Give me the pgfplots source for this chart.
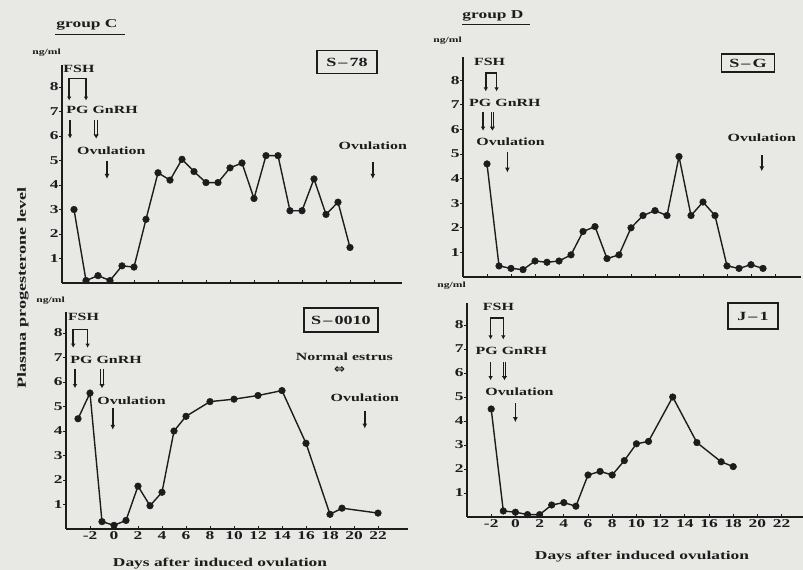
\documentclass[border=0pt]{standalone}
\usepackage{pgfplots}
\pgfplotsset{compat=1.18}
\usepackage{fontspec}
\setmainfont[FakeStretch=1.45]{Liberation Serif}
\newfontfamily\symfont{DejaVu Sans}
\usetikzlibrary{arrows.meta}

\definecolor{paper}{RGB}{232,232,229}
\definecolor{ink}{RGB}{28,28,28}

\newcommand{\fs}[1]{\fontsize{#1}{#1}\selectfont\bfseries}

% progesterone series (ng/ml) against days after induced ovulation
\pgfplotstableread{
day  p
-3  3.0
-2  0.1
-1  0.3
0   0.1
1   0.7
2   0.65
3   2.6
4   4.5
5   4.2
6   5.05
7   4.55
8   4.1
9   4.1
10  4.7
11  4.9
12  3.45
13  5.2
14  5.2
15  2.95
16  2.95
17  4.25
18  2.8
19  3.3
20  1.45
}\cowSseventyeight

\pgfplotstableread{
day  p
-2  4.6
-1  0.45
0   0.35
1   0.3
2   0.65
3   0.6
4   0.65
5   0.9
6   1.85
7   2.05
8   0.75
9   0.9
10  2.0
11  2.5
12  2.7
13  2.5
14  4.9
15  2.5
16  3.05
17  2.5
18  0.45
19  0.35
20  0.5
21  0.35
}\cowSG

\pgfplotstableread{
day  p
-3  4.5
-2  5.55
-1  0.3
0   0.15
1   0.35
2   1.75
3   0.95
4   1.5
5   4.0
6   4.6
8   5.2
10  5.3
12  5.45
14  5.65
16  3.5
18  0.6
19  0.85
22  0.65
}\cowSoolo

\pgfplotstableread{
day  p
-2  4.5
-1  0.25
0   0.2
1   0.1
2   0.1
3   0.5
4   0.6
5   0.45
6   1.75
7   1.9
8   1.75
9   2.35
10  3.05
11  3.15
13  5.0
15  3.1
17  2.3
18  2.1
}\cowJone

\pgfplotsset{
  panel/.style={
    scale only axis, clip=false,
    axis x line=bottom, axis y line=left,
    axis line style={ink, line width=1.4pt, -},
    xmin=-4, ymin=0,
    xtick={-2,0,...,22}, ytick={1,2,3,4,5,6,7,8},
    /pgf/number format/assume math mode=true,
    yticklabel={\fs{12}\pgfmathprintnumber{\tick}},
    tick align=inside,
    major tick length=3pt,
    tick style={ink, line width=0.9pt},
    ytick style={xshift=-3pt},
    tick label style={text=ink},
  },
  toppanel/.style={panel, xticklabels={}},
  botpanel/.style={panel, xticklabel={\fs{12}\pgfmathprintnumber{\tick}},
    xticklabel style={yshift=1pt}},
  dataline/.style={ink, line width=1.4pt, mark=*, mark size=3.3pt,
      mark options={fill=ink, draw=ink, line width=0.5pt, solid}},
}

\tikzset{
  lab/.style={font=\fs{11}, text=ink, inner sep=0pt},
  fsh/.style={ink, line width=1.5pt, {Latex[length=4pt,width=4.5pt]}-{Latex[length=4pt,width=4.5pt]}},
  pg/.style={ink, line width=1.5pt, -{Latex[length=4pt,width=4.5pt]}},
  gnrh/.style={ink, double=paper, double distance=1.8pt, line width=0.9pt, -{Latex[length=4pt,width=5.5pt]}},
  ovu/.style={ink, line width=1.7pt, -{Latex[length=5pt,width=5pt]}},
  idbox/.style={draw=ink, line width=1.3pt, font=\fs{12.5}, text=ink, inner sep=0pt, fill=paper},
  unit/.style={font=\fs{8}, text=ink, inner sep=0pt},
}

\begin{document}
\begin{tikzpicture}[x=1pt, y=1pt]
\path[use as bounding box, fill=paper] (0,0) rectangle (803,570);

% ---------------- group C, S-78 ----------------
\begin{axis}[toppanel, at={(62pt,287pt)}, anchor=south west,
  width=339.6pt, height=218pt, xmax=24.3, ymax=8.9]
\addplot[dataline] table[x=day, y=p] {\cowSseventyeight};
\node[unit, anchor=east] at ([xshift=-1pt, yshift=12pt]rel axis cs:0,1) {ng/ml};
\node[lab, anchor=west] at (axis cs:-3.9,8.75) {FSH};
\draw[fsh] (axis cs:-3.4,7.45) -- (axis cs:-3.4,8.35) -- (axis cs:-2.0,8.35) -- (axis cs:-2.0,7.45);
\node[lab, anchor=west] at (axis cs:-3.65,7.05) {PG\ GnRH};
\draw[pg] (axis cs:-3.33,6.65) -- (axis cs:-3.33,5.9);
\draw[gnrh] (axis cs:-1.15,6.65) -- (axis cs:-1.15,5.9);
\node[lab, anchor=west] at (axis cs:-2.75,5.4) {Ovulation};
\draw[ovu] (axis cs:-0.25,5.0) -- (axis cs:-0.25,4.25);
\node[lab] at (axis cs:21.9,5.6) {Ovulation};
\draw[ovu] (axis cs:21.9,4.95) -- (axis cs:21.9,4.25);
\end{axis}

% ---------------- group D, S-G ----------------
\begin{axis}[toppanel, at={(463pt,293pt)}, anchor=south west,
  width=338.4pt, height=220pt, xmax=24.2, ymax=8.95]
\addplot[dataline] table[x=day, y=p] {\cowSG};
\node[unit, anchor=east] at ([xshift=-1pt, yshift=16pt]rel axis cs:0,1) {ng/ml};
\node[lab, anchor=west] at (axis cs:-3.1,8.75) {FSH};
\draw[fsh] (axis cs:-2.1,7.55) -- (axis cs:-2.1,8.3) -- (axis cs:-1.2,8.3) -- (axis cs:-1.2,7.55);
\node[lab, anchor=west] at (axis cs:-3.5,7.1) {PG\ GnRH};
\draw[pg] (axis cs:-2.33,6.7) -- (axis cs:-2.33,5.95);
\draw[gnrh] (axis cs:-1.55,6.7) -- (axis cs:-1.55,5.95);
\node[lab, anchor=west] at (axis cs:-2.9,5.5) {Ovulation};
\draw[ovu] (axis cs:-0.3,5.1) -- (axis cs:-0.3,4.25);
\node[lab] at (axis cs:20.9,5.65) {Ovulation};
\draw[ovu] (axis cs:20.9,4.95) -- (axis cs:20.9,4.3);
\end{axis}

% ---------------- group C, S-0010 ----------------
\begin{axis}[botpanel, at={(66pt,41pt)}, anchor=south west,
  width=342pt, height=216.8pt, xmax=24.5, ymax=8.85]
\addplot[dataline] table[x=day, y=p] {\cowSoolo};
\node[unit, anchor=east] at ([xshift=-1pt, yshift=12pt]rel axis cs:0,1) {ng/ml};
\node[lab, anchor=west] at (axis cs:-3.85,8.65) {FSH};
\draw[fsh] (axis cs:-3.4,7.4) -- (axis cs:-3.4,8.15) -- (axis cs:-2.2,8.15) -- (axis cs:-2.2,7.4);
\node[lab, anchor=west] at (axis cs:-3.65,6.9) {PG\ GnRH};
\draw[pg] (axis cs:-3.25,6.55) -- (axis cs:-3.25,5.75);
\draw[gnrh] (axis cs:-1.0,6.55) -- (axis cs:-1.0,5.75);
\node[lab, anchor=west] at (axis cs:-1.4,5.25) {Ovulation};
\draw[ovu] (axis cs:-0.1,4.95) -- (axis cs:-0.1,4.05);
\node[lab] at (axis cs:19.2,7.05) {Normal estrus};
\node[font=\symfont\fontsize{13}{13}\selectfont\bfseries, text=ink, inner sep=0pt] at (axis cs:18.8,6.5) {⇔};
\node[lab] at (axis cs:20.9,5.35) {Ovulation};
\draw[ovu] (axis cs:20.9,4.8) -- (axis cs:20.9,4.1);
\end{axis}

% ---------------- group D, J-1 ----------------
\begin{axis}[botpanel, at={(467pt,53pt)}, anchor=south west,
  width=336.4pt, height=213.6pt, xmax=23.8, ymax=8.9]
\addplot[dataline] table[x=day, y=p] {\cowJone};
\node[unit, anchor=east] at ([xshift=-1pt, yshift=18pt]rel axis cs:0,1) {ng/ml};
\node[lab, anchor=west] at (axis cs:-2.7,8.75) {FSH};
\draw[fsh] (axis cs:-2.05,7.4) -- (axis cs:-2.05,8.3) -- (axis cs:-1.0,8.3) -- (axis cs:-1.0,7.4);
\node[lab, anchor=west] at (axis cs:-3.3,6.9) {PG\ GnRH};
\draw[pg] (axis cs:-2.05,6.45) -- (axis cs:-2.05,5.7);
\draw[gnrh] (axis cs:-0.9,6.45) -- (axis cs:-0.9,5.7);
\node[lab, anchor=west] at (axis cs:-2.5,5.2) {Ovulation};
\draw[ovu] (axis cs:0,4.75) -- (axis cs:0,3.95);
\end{axis}

% group headings
\node[font=\fs{12}, text=ink, inner sep=0pt] at (87,545) {group C};
\draw[ink, line width=1pt] (55,535) -- (125,535);
\node[font=\fs{12}, text=ink, inner sep=0pt] at (493,554) {group D};
\draw[ink, line width=1pt] (462,545) -- (530,545);

% animal identifiers
\node[idbox, minimum width=60pt, minimum height=23pt] at (347,508) {S\,–\,78};
\node[idbox, minimum width=53pt, minimum height=18pt] at (748,507) {S\,–\,G};
\node[idbox, minimum width=74pt, minimum height=24pt] at (341,250) {S\,–\,0010};
\node[idbox, minimum width=50pt, minimum height=26pt] at (753,254) {J\,–\,1};

% shared axis titles
\node[font=\fs{12.5}, text=ink, inner sep=0pt, rotate=90] at (23,282) {Plasma progesterone level};
\node[font=\fs{12}, text=ink, inner sep=0pt] at (220,6) {Days after induced ovulation};
\node[font=\fs{12}, text=ink, inner sep=0pt] at (642,13) {Days after induced ovulation};
\end{tikzpicture}
\end{document}
